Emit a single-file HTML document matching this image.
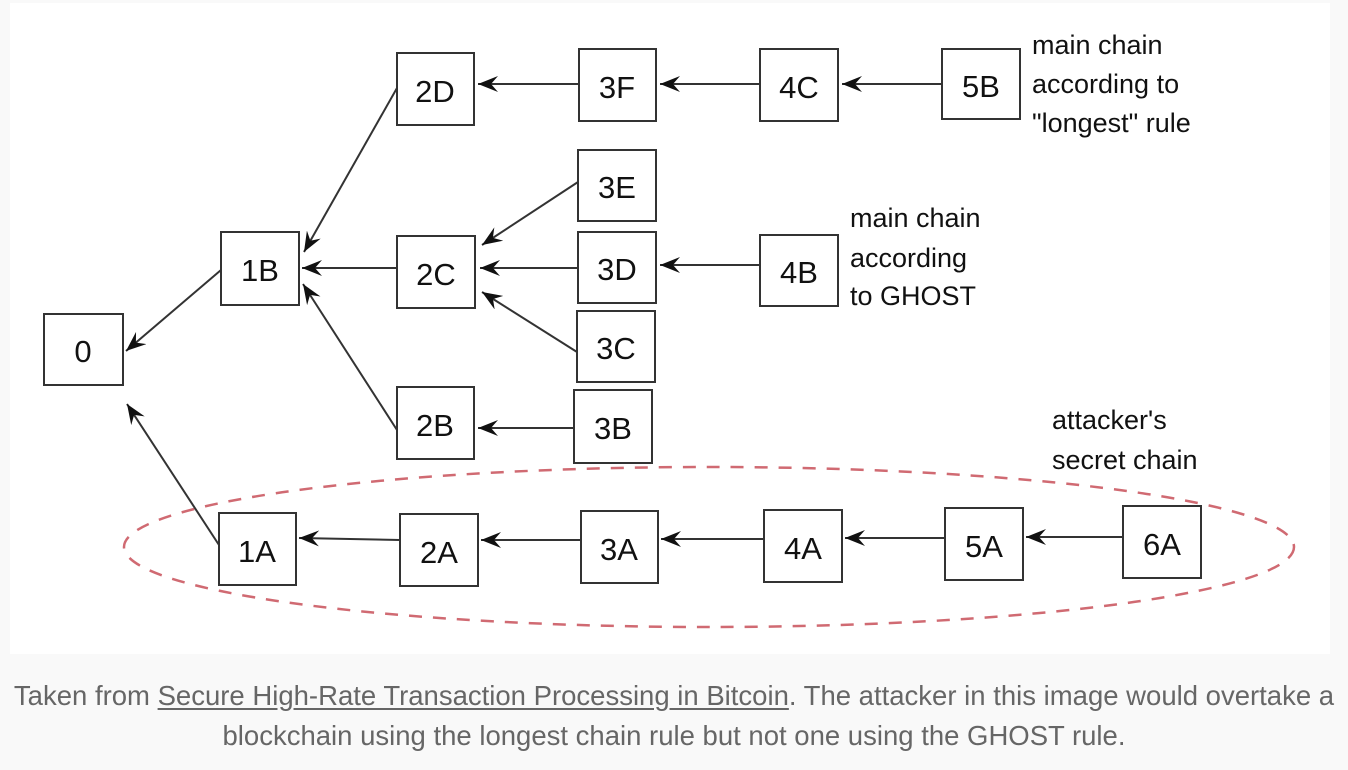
<!DOCTYPE html>
<html><head><meta charset="utf-8"><style>
html,body{margin:0;padding:0;background:#f9f9f9;width:1348px;height:770px;overflow:hidden}
.cap{position:absolute;left:0;width:1348px;text-align:center;font-family:"Liberation Sans",sans-serif;font-size:27.5px;color:#666;line-height:40px;top:676px;white-space:nowrap}
.cap u{text-decoration:underline;text-underline-offset:3px}
</style></head><body>
<svg width="1348" height="770" style="position:absolute;left:0;top:0">
<defs><marker id="a" viewBox="0 0 20 16" refX="20" refY="8" markerWidth="20" markerHeight="16" markerUnits="userSpaceOnUse" orient="auto"><path d="M20,8 L0,0 L7,8 L0,16 Z" fill="#111"/></marker></defs>
<rect x="10" y="3" width="1320" height="651" fill="#fff"/>
<ellipse cx="709" cy="547" rx="585" ry="80" fill="none" stroke="#d06a72" stroke-width="2.5" stroke-dasharray="13,11"/>
<g stroke="#333" stroke-width="2" fill="#fff">
<rect x="44" y="314" width="79" height="71"/>
<rect x="221" y="232" width="78" height="73"/>
<rect x="397" y="53" width="77" height="72"/>
<rect x="397" y="236" width="78" height="72"/>
<rect x="397" y="387" width="77" height="72"/>
<rect x="579" y="49" width="77" height="72"/>
<rect x="578" y="150" width="78" height="71"/>
<rect x="578" y="232" width="78" height="71"/>
<rect x="577" y="311" width="78" height="71"/>
<rect x="574" y="390" width="78" height="73"/>
<rect x="760" y="49" width="78" height="72"/>
<rect x="760" y="235" width="78" height="71"/>
<rect x="942" y="49" width="78" height="70"/>
<rect x="219" y="513" width="77" height="72"/>
<rect x="400" y="514" width="78" height="72"/>
<rect x="581" y="511" width="77" height="72"/>
<rect x="764" y="510" width="78" height="72"/>
<rect x="945" y="508" width="78" height="72"/>
<rect x="1123" y="506" width="78" height="72"/>
</g>
<g stroke="#333" stroke-width="2" fill="none" marker-end="url(#a)">
<path d="M397,88 L304,252"/>
<path d="M397,268 L302,268"/>
<path d="M397,430 L303,284"/>
<path d="M221,270 L126,351"/>
<path d="M219,545 L127,404"/>
<path d="M579,84 L478,84"/>
<path d="M760,84 L660,84"/>
<path d="M942,84 L842,84"/>
<path d="M578,182 L482,245"/>
<path d="M578,268 L480,268"/>
<path d="M577,352 L482,292"/>
<path d="M760,265 L660,265"/>
<path d="M574,428 L478,428"/>
<path d="M400,540 L299,538"/>
<path d="M581,540 L481,540"/>
<path d="M764,539 L661,539"/>
<path d="M945,538 L845,538"/>
<path d="M1123,537 L1026,537"/>
</g>
<g font-family="Liberation Sans, sans-serif" font-size="31" fill="#111" text-anchor="middle">
<text x="83" y="362">0</text>
<text x="260" y="281">1B</text>
<text x="435" y="102">2D</text>
<text x="436" y="285">2C</text>
<text x="435" y="436">2B</text>
<text x="617" y="98">3F</text>
<text x="617" y="198">3E</text>
<text x="617" y="280">3D</text>
<text x="616" y="359">3C</text>
<text x="613" y="439">3B</text>
<text x="799" y="98">4C</text>
<text x="799" y="283">4B</text>
<text x="981" y="97">5B</text>
<text x="257" y="562">1A</text>
<text x="439" y="563">2A</text>
<text x="619" y="560">3A</text>
<text x="803" y="559">4A</text>
<text x="984" y="557">5A</text>
<text x="1162" y="555">6A</text>
</g>
<g font-family="Liberation Sans, sans-serif" font-size="27" fill="#111">
<text x="1032" y="54">main chain</text>
<text x="1032" y="93">according to</text>
<text x="1032" y="132">"longest" rule</text>
<text x="850" y="227">main chain</text>
<text x="850" y="267">according</text>
<text x="850" y="305">to GHOST</text>
<text x="1052" y="429">attacker's</text>
<text x="1052" y="469">secret chain</text>
</g>
</svg>
<div class="cap">Taken from <u>Secure High-Rate Transaction Processing in Bitcoin</u>. The attacker in this image would overtake a<br>blockchain using the longest chain rule but not one using the GHOST rule.</div>
</body></html>
